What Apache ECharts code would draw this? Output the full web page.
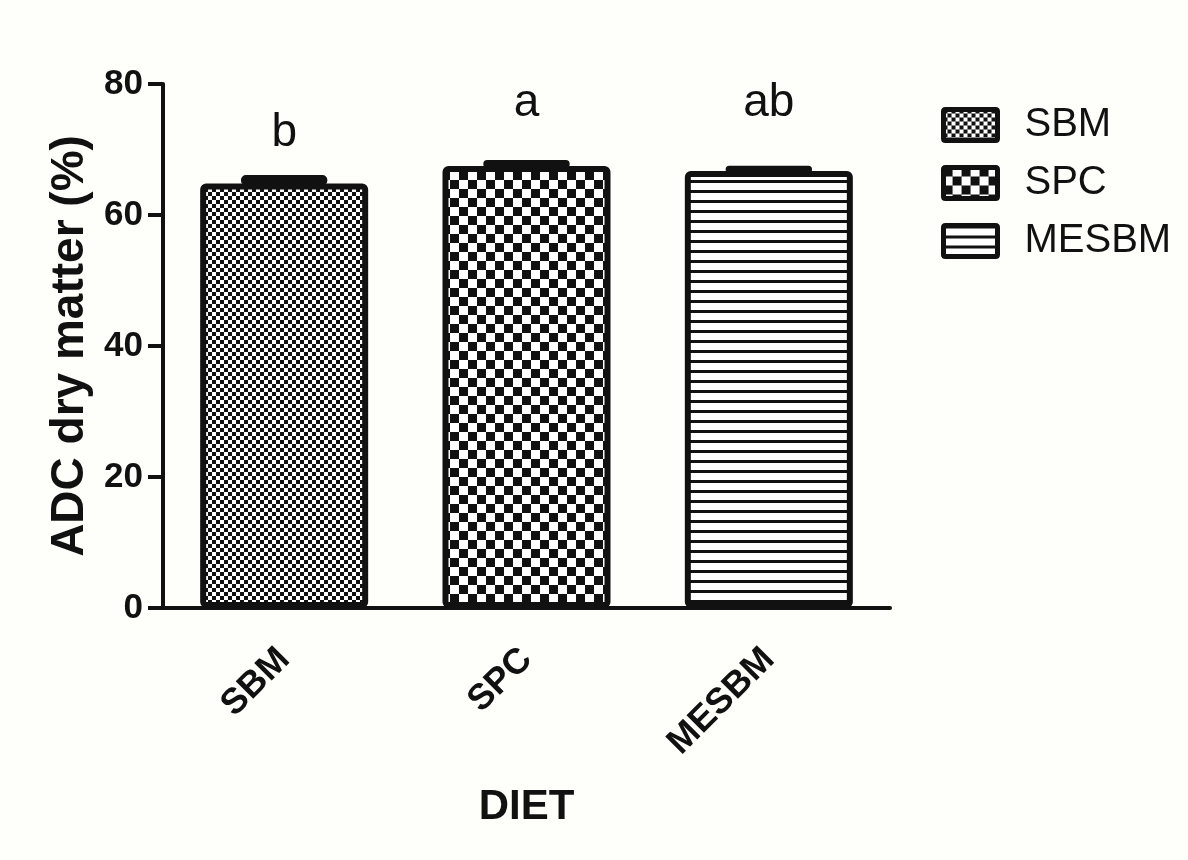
<!DOCTYPE html>
<html>
<head>
<meta charset="utf-8">
<script src="https://cdn.jsdelivr.net/npm/echarts@6/dist/echarts.min.js"></script>
<style>
html,body{margin:0;padding:0;background:#fefefa;}
#chart{width:1188px;height:860px;}
</style>
</head>
<body>
<div id="chart"></div>
<script>
// ---- data ----
const categories = ['SBM', 'SPC', 'MESBM'];
const means = [64.8, 67.5, 66.7];
const sems = [1.0, 0.6, 0.5];
const letters = ['b', 'a', 'ab'];
const letterY = [68.9, 73.6, 73.6];
const yMin = 0, yMax = 80, yInterval = 20;
const yTitle = 'ADC dry matter (%)';
const xTitle = 'DIET';

const FONT = 'Liberation Sans, Arial, Helvetica, sans-serif';
const INK = '#111111';

function makePattern(kind) {
  const c = document.createElement('canvas');
  const ctx = c.getContext('2d');
  if (kind === 'fine') {
    const s = 4; c.width = 2 * s; c.height = 2 * s;
    ctx.fillStyle = '#ffffff'; ctx.fillRect(0, 0, c.width, c.height);
    ctx.fillStyle = INK;
    ctx.fillRect(0, 0, s, s); ctx.fillRect(s, s, s, s);
  } else if (kind === 'coarse') {
    const s = 9; c.width = 2 * s; c.height = 2 * s;
    ctx.fillStyle = '#ffffff'; ctx.fillRect(0, 0, c.width, c.height);
    ctx.fillStyle = INK;
    ctx.fillRect(0, 0, s, s); ctx.fillRect(s, s, s, s);
  } else {
    c.width = 10; c.height = 10;
    ctx.fillStyle = '#ffffff'; ctx.fillRect(0, 0, 10, 10);
    ctx.fillStyle = INK;
    ctx.fillRect(0, 0, 10, 3);
  }
  return { image: c, repeat: 'repeat' };
}
const patterns = [makePattern('fine'), makePattern('coarse'), makePattern('lines')];

const barSeries = categories.map((name, i) => ({
  name: name,
  type: 'bar',
  barWidth: 168,
  barGap: '-100%',
  data: categories.map((_, j) => (j === i ? means[j] : '-')),
  itemStyle: {
    color: patterns[i],
    borderColor: INK,
    borderWidth: 6,
    borderRadius: 3
  },
  z: 2
}));

const errSeries = {
  type: 'custom',
  name: 'err',
  data: means.map((m, i) => [i, m, sems[i]]),
  z: 5,
  silent: true,
  renderItem: function (params, api) {
    const x = api.value(0), m = api.value(1), e = api.value(2);
    const top = api.coord([x, m + e]);
    const base = api.coord([x, m]);
    const w = api.size([1, 0])[0] * 0.34;
    return {
      type: 'rect',
      shape: { x: top[0] - w / 2, y: top[1], width: w, height: Math.max(1, base[1] - top[1]), r: 3 },
      style: { fill: INK, stroke: INK, lineWidth: 4 }
    };
  }
};

const letterSeries = {
  type: 'custom',
  name: 'letters',
  data: letterY.map((y, i) => [i, y]),
  z: 6,
  silent: true,
  renderItem: function (params, api) {
    const p = api.coord([api.value(0), api.value(1)]);
    return {
      type: 'text',
      x: p[0], y: p[1],
      style: {
        text: letters[params.dataIndex],
        fontSize: 46, fontFamily: FONT, fontWeight: 'normal',
        fill: INK, align: 'center', verticalAlign: 'bottom'
      }
    };
  }
};

const chart = echarts.init(document.getElementById('chart'), null, { renderer: 'canvas' });
chart.setOption({
  backgroundColor: '#fefefa',
  animation: false,
  grid: { left: 163, right: 298, top: 84, bottom: 252, containLabel: false },
  legend: {
    data: categories,
    orient: 'vertical',
    left: 936, top: 100,
    itemWidth: 54, itemHeight: 31,
    itemGap: 18,
    icon: 'path://M2,0 L52,0 Q54,0 54,2 L54,29 Q54,31 52,31 L2,31 Q0,31 0,29 L0,2 Q0,0 2,0 Z',
    textStyle: { fontSize: 40, fontFamily: FONT, color: INK, lineHeight: 40, padding: [0, 0, 0, 22] },
    itemStyle: { borderColor: INK, borderWidth: 5 },
    selectedMode: false
  },
  xAxis: {
    type: 'category',
    data: categories,
    name: xTitle,
    nameLocation: 'middle',
    nameGap: 178,
    nameTextStyle: { fontSize: 42, fontWeight: 'bold', fontFamily: FONT, color: INK },
    axisLine: { lineStyle: { color: INK, width: 4 } },
    axisTick: { alignWithLabel: true, length: 20, lineStyle: { color: INK, width: 4 } },
    axisLabel: { rotate: 45, margin: 46, fontSize: 36, fontWeight: 'bold', fontFamily: FONT, color: INK }
  },
  yAxis: {
    type: 'value',
    min: yMin, max: yMax, interval: yInterval,
    name: yTitle,
    nameLocation: 'middle',
    nameGap: 64,
    nameTextStyle: { fontSize: 46, fontWeight: 'bold', fontFamily: FONT, color: INK },
    splitLine: { show: false },
    axisLine: { show: true, lineStyle: { color: INK, width: 4 } },
    axisTick: { show: true, length: 15, lineStyle: { color: INK, width: 4 } },
    axisLabel: { margin: 20, fontSize: 35, fontWeight: 'bold', fontFamily: FONT, color: INK }
  },
  series: barSeries.concat([errSeries, letterSeries])
});
</script>
</body>
</html>
